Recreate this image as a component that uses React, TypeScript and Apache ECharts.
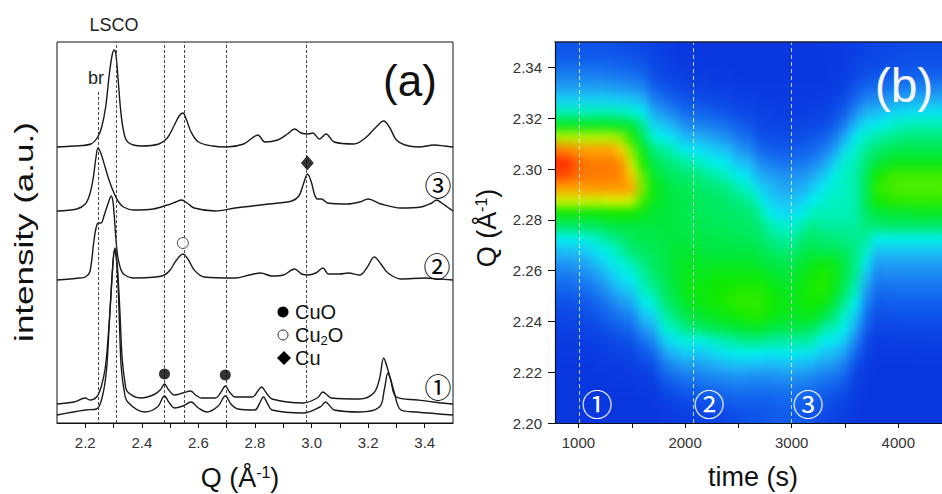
import React, { useEffect, useRef } from 'react';
import * as echarts from 'echarts';

const FONT = '"Liberation Sans", Arial, Helvetica, sans-serif';
const CJK = '"Noto Sans CJK SC", "DejaVu Sans", sans-serif';

// ---------- panel (a): diffraction patterns ----------
const qLabelValues = [2.2, 2.4, 2.6, 2.8, 3.0, 3.2, 3.4];
const qTickValues = [2.2, 2.3, 2.4, 2.5, 2.6, 2.7, 2.8, 2.9, 3.0, 3.1, 3.2, 3.3, 3.4];
const fullDashQ = [2.305, 2.48, 2.548, 2.697, 2.985];
const brDashQ = 2.245;

// vertical offsets of each pattern (intensity units)
const offsets = [8, 19, 143, 212, 276];

// intensity above baseline, [Q, I]
const pattern1b: number[][] = [[2.10,0],[2.2,5],[2.24,6],[2.26,18],[2.275,45],[2.285,92],[2.295,140],[2.303,165],[2.309,158],[2.315,135],[2.321,90],[2.327,48],[2.337,25],[2.35,13],[2.41,3],[2.455,8],[2.48,19],[2.495,13],[2.515,7],[2.545,9],[2.574,13],[2.6,7],[2.63,3],[2.67,9],[2.695,19],[2.715,11],[2.74,6],[2.8,5],[2.815,11],[2.83,18],[2.845,11],[2.86,5],[2.97,2],[3.03,8],[3.05,13],[3.065,9],[3.08,5],[3.17,3],[3.24,8],[3.257,25],[3.27,42],[3.28,35],[3.29,25],[3.316,5],[3.37,3],[3.50,0]];
const pattern1a: number[][] = [[2.10,0],[2.16,2],[2.2,6],[2.216,4],[2.24,7],[2.256,17],[2.27,35],[2.28,64],[2.29,105],[2.297,137],[2.305,156],[2.31,148],[2.315,131],[2.322,95],[2.33,47],[2.34,22],[2.35,12],[2.397,6],[2.44,9],[2.465,14],[2.48,20],[2.495,14],[2.515,9],[2.545,11],[2.572,13],[2.59,9],[2.61,6],[2.66,6],[2.68,12],[2.695,18],[2.71,12],[2.73,7],[2.79,7],[2.81,13],[2.823,17],[2.84,11],[2.86,5],[2.97,1],[3.02,6],[3.04,12],[3.055,9],[3.07,6],[3.17,5],[3.22,11],[3.24,25],[3.255,46],[3.268,36],[3.28,24],[3.3,7],[3.375,4],[3.43,2],[3.50,0]];
const pattern2: number[][] = [[2.10,0],[2.18,2],[2.20,3],[2.216,8],[2.23,38],[2.238,52],[2.246,57],[2.256,57],[2.266,64],[2.28,76],[2.292,84],[2.298,78],[2.303,62],[2.308,42],[2.314,25],[2.322,14],[2.335,6],[2.374,2],[2.45,3],[2.48,5],[2.50,10],[2.52,19],[2.545,26],[2.565,20],[2.585,10],[2.62,3],[2.73,2],[2.78,5],[2.82,7],[2.86,4],[2.9,5],[2.94,11],[2.965,6],[2.986,5],[3.015,7],[3.04,12],[3.06,6],[3.1,6],[3.13,7],[3.17,5],[3.195,12],[3.222,23],[3.245,16],[3.27,7],[3.316,1],[3.4,2],[3.45,1],[3.50,0]];
const pattern3: number[][] = [[2.10,0],[2.17,2],[2.20,7],[2.215,16],[2.227,31],[2.238,54],[2.245,63],[2.256,57],[2.27,44],[2.285,30],[2.303,17],[2.318,9],[2.335,4],[2.37,1],[2.44,2],[2.49,6],[2.52,9],[2.54,11],[2.56,8],[2.585,3],[2.66,0],[2.73,3],[2.85,7],[2.93,10],[2.955,15],[2.97,26],[2.986,37],[3.0,28],[3.01,17],[3.02,12],[3.035,12],[3.057,8],[3.128,7],[3.17,9],[3.2,12],[3.245,7],[3.316,3],[3.387,4],[3.425,8],[3.442,11],[3.46,8],[3.48,4],[3.50,0]];
const pattern4: number[][] = [[2.10,0],[2.16,1],[2.22,3],[2.244,10],[2.258,20],[2.272,40],[2.285,73],[2.295,92],[2.302,97],[2.308,93],[2.316,68],[2.324,40],[2.334,18],[2.35,5],[2.40,1],[2.46,3],[2.49,9],[2.515,22],[2.532,31],[2.545,34],[2.558,27],[2.574,15],[2.60,5],[2.65,1],[2.70,0],[2.76,3],[2.79,9],[2.81,12],[2.835,5],[2.88,7],[2.915,13],[2.94,18],[2.963,14],[2.986,13],[3.004,14],[3.028,8],[3.051,13],[3.08,5],[3.15,3],[3.19,9],[3.225,19],[3.255,26],[3.275,20],[3.30,7],[3.33,2],[3.38,0],[3.434,2],[3.47,1],[3.50,0]];
const patterns = [pattern1b, pattern1a, pattern2, pattern3, pattern4];

// phase markers [Q, level]
const cuoMarks = [[2.48, 49], [2.695, 48]];
const cu2oMarks = [[2.545, 180]];
const cuMarks = [[2.985, 260]];

// ---------- panel (b): time-resolved map ----------
const times = [800,900,1000,1100,1200,1300,1400,1500,1600,1700,1800,1900,2000,2100,2200,2300,2400,2500,2600,2700,2800,2900,3000,3100,3200,3300,3400,3500,3600,3700,3800,3900,4000,4100,4200,4300,4400];
const qCenters = [2.3475,2.3425,2.3375,2.3325,2.3275,2.3225,2.3175,2.3125,2.3075,2.3025,2.2975,2.2925,2.2875,2.2825,2.2775,2.2725,2.2675,2.2625,2.2575,2.2525,2.2475,2.2425,2.2375,2.2325,2.2275,2.2225,2.2175,2.2125,2.2075,2.2025];
// one row per time, values from Q = 2.3475 (top) down to Q = 2.2025
const intensity = [
  [13,16,22,29,38,50,62,75,92,100,97,88,77,64,56,44,34,27,21,17,13,10,7,5,4,3,3,2,2,2],
  [13,16,22,29,38,50,62,75,91,99,96,88,77,64,56,45,35,27,21,17,13,10,7,5,4,3,3,2,2,2],
  [13,16,22,29,38,50,62,75,89,94,93,88,77,64,57,46,36,29,23,18,14,11,8,5,4,3,3,2,2,2],
  [13,16,22,29,38,50,62,75,88,92,92,89,77,64,57,47,38,31,25,20,15,12,9,6,4,3,3,2,2,2],
  [13,16,22,29,38,50,62,75,88,92,92,89,77,64,58,50,44,37,30,24,19,15,11,8,6,4,3,2,2,2],
  [13,16,21,28,38,50,62,75,88,92,92,89,78,65,59,53,47,42,36,29,23,18,14,10,7,5,4,3,2,2],
  [12,15,20,27,37,49,61,73,83,90,91,89,78,65,60,55,51,47,42,35,28,22,16,12,8,5,4,3,2,2],
  [11,14,19,26,36,48,60,66,72,77,83,88,77,65,60,58,55,50,45,38,31,24,18,13,9,6,4,3,2,2],
  [10,13,17,24,33,45,52,58,63,66,70,72,68,63,60,59,57,54,51,49,44,36,28,20,14,9,6,4,3,2],
  [8,9,12,16,23,31,40,48,55,59,62,64,63,61,60,59,58,57,55,52,47,40,32,24,17,11,7,4,3,2],
  [6,7,9,13,19,27,36,45,52,56,59,61,61,60,60,60,59,59,58,57,55,51,47,38,29,21,15,10,6,4],
  [5,5,7,11,16,23,32,41,49,54,57,59,60,60,60,60,61,61,61,60,58,55,50,43,34,25,18,12,8,5],
  [3,4,6,9,13,18,25,34,44,52,56,58,59,59,59,60,61,62,63,63,62,59,54,47,38,29,21,15,10,6],
  [3,4,5,8,12,17,24,33,43,50,55,57,58,58,59,60,61,62,63,64,63,61,56,46,37,28,21,15,11,7],
  [3,3,5,7,11,16,23,31,40,47,53,56,57,58,58,59,60,62,63,64,64,62,58,47,38,30,23,17,12,8],
  [3,3,4,6,10,14,21,28,37,45,51,55,57,57,58,59,60,62,64,65,65,63,59,50,42,32,24,18,13,9],
  [3,3,4,6,9,13,19,26,35,43,49,54,56,57,58,59,60,62,64,65,66,64,60,51,43,33,25,19,14,10],
  [3,3,3,5,7,10,15,21,28,36,44,50,54,56,57,58,60,62,64,66,67,65,61,53,45,35,26,20,15,12],
  [3,3,3,4,7,10,14,19,26,34,42,48,53,56,57,58,60,62,64,66,67,66,62,54,45,34,25,19,15,13],
  [3,3,3,4,5,7,9,13,18,25,32,40,47,52,55,57,59,61,64,66,67,66,62,54,45,34,25,19,15,13],
  [3,3,3,4,5,7,9,12,16,22,30,34,39,45,51,54,57,60,62,64,65,64,60,52,43,33,25,19,16,14],
  [3,3,3,4,5,6,8,11,15,20,27,31,36,41,48,52,56,59,61,63,64,63,59,52,44,34,26,20,17,15],
  [3,3,3,4,5,6,8,11,15,20,27,31,36,41,48,52,56,59,61,62,63,62,59,52,44,34,26,20,17,15],
  [3,3,3,4,5,6,9,12,16,21,27,32,38,45,51,55,58,61,63,64,64,63,59,52,43,33,25,19,16,14],
  [3,3,3,4,5,7,9,13,18,24,31,38,45,50,54,57,60,63,65,66,65,63,58,51,42,32,24,18,15,12],
  [3,3,3,4,6,8,11,16,22,29,37,44,48,50,52,55,58,64,66,66,64,60,52,45,36,28,21,16,13,10],
  [4,4,4,6,8,11,15,21,29,38,46,48,49,50,52,55,59,63,64,63,60,55,50,44,35,27,20,14,10,8],
  [5,5,6,8,11,16,23,32,42,48,49,49,49,50,52,54,57,59,59,57,53,48,45,37,29,22,16,11,8,6],
  [6,7,9,13,18,25,34,44,48,50,51,51,51,51,52,53,54,54,52,49,45,38,31,24,17,11,7,5,4,3],
  [8,9,12,17,24,33,42,49,53,56,58,58,58,57,55,52,48,43,35,29,24,19,15,11,8,5,4,3,2,2],
  [9,10,13,18,25,34,44,51,56,60,65,67,65,60,55,45,35,28,23,19,15,12,9,6,4,3,3,2,2,2],
  [10,11,14,20,28,38,47,53,58,62,67,68,66,61,56,46,36,29,24,19,16,12,9,6,4,3,3,2,2,2],
  [10,11,15,21,30,40,49,54,59,63,68,69,67,61,56,46,36,29,24,20,16,13,10,7,4,3,3,2,2,2],
  [11,12,15,22,31,41,50,55,59,63,68,69,67,61,56,46,36,29,24,20,16,13,10,7,4,3,3,2,2,2],
  [11,12,16,23,32,42,50,55,59,63,68,69,67,62,56,46,36,29,24,20,16,13,10,7,5,3,3,2,2,2],
  [11,12,16,23,32,42,50,55,59,63,68,69,67,62,56,46,36,29,24,20,16,13,10,7,5,3,3,2,2,2],
  [11,12,16,23,32,42,50,55,59,63,68,69,67,62,56,46,36,29,24,20,16,13,10,7,5,3,3,2,2,2],
];
const timeLabelValues = [1000, 2000, 3000, 4000];
const timeTickValues = [1000, 1500, 2000, 2500, 3000, 3500, 4000];
const qMajorValues = [2.20, 2.22, 2.24, 2.26, 2.28, 2.30, 2.32, 2.34];
const qMinorValues = [2.21, 2.23, 2.25, 2.27, 2.29, 2.31, 2.33];
const stageTimes = [1010, 2080, 3000];

const mapColors = ['#0833dc','#0a3ce2','#0c48e6','#105cec','#1672f0','#1c8af2','#20a2f4','#1cbef6','#10d8f4','#00f0f0','#00f0b8','#00ec78','#00e840','#10ea00','#5cee00','#b0f200','#f4f000','#ffc000','#ff9000','#ff5c00','#ff2c00'];

// plot-area geometry of panel (b)
const MAP_LEFT = 555, MAP_TOP = 42, MAP_W = 387, MAP_H = 381, PAD = 30;
const T_MIN = 780, T_MAX = 4410, Q_MIN = 2.2, Q_MAX = 2.35;

export default function App() {
  const ref = useRef<HTMLDivElement>(null);
  const heatRef = useRef<HTMLDivElement>(null);
  useEffect(() => {
    document.body.style.margin = '0';

    // ---- map layer (softened with a CSS blur, clipped to the plot area) ----
    const heat = echarts.init(heatRef.current!, undefined, { renderer: 'svg' });
    const heatData: number[][] = [];
    times.forEach((t, i) => {
      intensity[i].forEach((v, j) => {
        if (qCenters[j] !== undefined) heatData.push([t, qCenters[j], v]);
      });
    });
    const tFirst = times[0], tLast = times[times.length - 1];
    const qTop = qCenters[0], qBottom = qCenters[qCenters.length - 1];
    heat.setOption({
      animation: false,
      grid: { left: PAD, top: PAD, width: MAP_W, height: MAP_H },
      xAxis: { type: 'value', min: T_MIN, max: T_MAX, show: false },
      yAxis: { type: 'value', min: Q_MIN, max: Q_MAX, show: false },
      visualMap: { type: 'continuous', show: false, min: 0, max: 100, dimension: 2, inRange: { color: mapColors } },
      series: [{
        type: 'custom',
        data: heatData,
        encode: { x: 0, y: 1 },
        silent: true,
        renderItem: (params: any, api: any) => {
          const t = api.value(0);
          const q = api.value(1);
          const a = api.coord([t - 50, q + 0.0025]);
          const b = api.coord([t + 50, q - 0.0025]);
          let x0 = a[0], y0 = a[1], x1 = b[0], y1 = b[1];
          if (t === tFirst) x0 -= PAD;
          if (t === tLast) x1 += PAD;
          if (q === qTop) y0 -= PAD;
          if (q === qBottom) y1 += PAD;
          return { type: 'rect', shape: { x: x0, y: y0, width: x1 - x0 + 0.7, height: y1 - y0 + 0.7 }, style: { fill: api.visual('color') } };
        },
      }],
    });

    // ---- main chart ----
    const chart = echarts.init(ref.current!, undefined, { renderer: 'svg' });

    const lineSeries = patterns.map((p, k) => ({
      type: 'line',
      xAxisIndex: 0,
      yAxisIndex: 0,
      data: p.map(([q, v]) => [q, v + offsets[k]]),
      showSymbol: false,
      smooth: 0.35,
      lineStyle: { color: '#1a1a1a', width: 1.4 },
      silent: true,
      z: 3,
    }));

    const axisText = { color: '#333', fontSize: 15, fontFamily: FONT };

    const circled = (ch: string, x: number, y: number, color: string, size: number) => ({
      type: 'text', x, y, z: 100,
      style: { text: ch, fill: color, font: `${size}px ${CJK}`, align: 'center', verticalAlign: 'middle' },
    });

    const option: any = {
      animation: false,
      grid: [
        { left: 57, top: 42, width: 396, height: 381, show: true, borderColor: '#111', borderWidth: 1 },
        { left: MAP_LEFT, top: MAP_TOP, width: MAP_W, height: MAP_H },
      ],
      xAxis: [
        {
          type: 'value', gridIndex: 0, min: 2.1, max: 3.5,
          axisLine: { show: true, lineStyle: { color: '#111', width: 1 } },
          axisTick: { show: true, customValues: qTickValues, length: 5, inside: false, lineStyle: { color: '#111' } },
          axisLabel: { ...axisText, customValues: qLabelValues, formatter: (v: number) => v.toFixed(1), margin: 12 },
          splitLine: { show: false },
        },
        {
          type: 'value', gridIndex: 1, min: T_MIN, max: T_MAX, z: 5,
          axisLine: { show: true, lineStyle: { color: '#111', width: 1 } },
          axisTick: { show: true, customValues: timeTickValues, length: 5, lineStyle: { color: '#111' } },
          axisLabel: { ...axisText, customValues: timeLabelValues, formatter: (v: number) => String(v), margin: 12 },
          splitLine: { show: false },
        },
        {
          type: 'value', gridIndex: 1, min: T_MIN, max: T_MAX, position: 'top', z: 5,
          axisLine: { show: true, lineStyle: { color: '#1a1f3a', width: 1.5 } },
          axisTick: { show: false }, axisLabel: { show: false }, splitLine: { show: false },
        },
      ],
      yAxis: [
        {
          type: 'value', gridIndex: 0, min: 0, max: 381,
          axisLine: { show: false }, axisTick: { show: false }, axisLabel: { show: false }, splitLine: { show: false },
        },
        {
          type: 'value', gridIndex: 1, min: Q_MIN, max: Q_MAX, z: 5,
          axisLine: { show: true, lineStyle: { color: '#111', width: 1.2 } },
          axisTick: { show: true, customValues: qMajorValues, length: 7, lineStyle: { color: '#111' } },
          axisLabel: { ...axisText, customValues: qMajorValues, formatter: (v: number) => v.toFixed(2), margin: 13 },
          splitLine: { show: false },
        },
        {
          type: 'value', gridIndex: 1, min: Q_MIN, max: Q_MAX, z: 5,
          axisLine: { show: false },
          axisTick: { show: true, customValues: qMinorValues, length: 4, lineStyle: { color: '#111' } },
          axisLabel: { show: false }, splitLine: { show: false },
        },
      ],
      series: [
        ...lineSeries,
        {
          type: 'line', xAxisIndex: 0, yAxisIndex: 0, data: [], silent: true, z: 2,
          markLine: {
            silent: true, symbol: ['none', 'none'], label: { show: false },
            lineStyle: { color: '#333', width: 0.9, type: [3, 2] },
            data: [
              ...fullDashQ.map((q) => ({ xAxis: q })),
              [{ coord: [brDashQ, 331] }, { coord: [brDashQ, 0] }],
            ],
          },
        },
        {
          type: 'line', xAxisIndex: 1, yAxisIndex: 1, data: [], silent: true, z: 4,
          markLine: {
            silent: true, symbol: ['none', 'none'], label: { show: false },
            lineStyle: { color: '#ffffff', width: 0.9, type: [4, 3], opacity: 0.85 },
            data: stageTimes.map((t) => ({ xAxis: t })),
          },
        },
        {
          type: 'scatter', xAxisIndex: 0, yAxisIndex: 0, data: cuoMarks, symbol: 'circle', symbolSize: 11,
          itemStyle: { color: '#000' }, silent: true, z: 5,
        },
        {
          type: 'scatter', xAxisIndex: 0, yAxisIndex: 0, data: cu2oMarks, symbol: 'circle', symbolSize: 11,
          itemStyle: { color: '#fff', borderColor: '#222', borderWidth: 1 }, silent: true, z: 5,
        },
        {
          type: 'scatter', xAxisIndex: 0, yAxisIndex: 0, data: cuMarks, symbol: 'diamond', symbolSize: [13, 15],
          itemStyle: { color: '#000' }, silent: true, z: 5,
        },
      ],
      graphic: [
        { type: 'text', x: 114, y: 25, z: 100, style: { text: 'LSCO', fill: '#222', font: `18px ${FONT}`, align: 'center', verticalAlign: 'middle' } },
        { type: 'text', x: 96, y: 78, z: 100, style: { text: 'br', fill: '#222', font: `18px ${FONT}`, align: 'center', verticalAlign: 'middle' } },
        { type: 'text', x: 410, y: 80, z: 100, style: { text: '(a)', fill: '#111', font: `44px ${FONT}`, align: 'center', verticalAlign: 'middle' } },
        { type: 'text', x: 904, y: 85, z: 100, style: { text: '(b)', fill: '#f4f6ff', font: `48px ${FONT}`, align: 'center', verticalAlign: 'middle' } },
        circled('③', 438, 184, '#000', 27),
        circled('②', 437, 265, '#000', 27),
        circled('①', 438, 386, '#000', 27),
        circled('①', 597, 402, '#fff', 31),
        circled('②', 709, 402, '#fff', 31),
        circled('③', 808, 402, '#fff', 31),
        // legend
        { type: 'circle', z: 100, shape: { cx: 283, cy: 312, r: 5.5 }, style: { fill: '#000' } },
        { type: 'text', x: 295, y: 312, z: 100, style: { text: 'CuO', fill: '#111', font: `20px ${FONT}`, verticalAlign: 'middle' } },
        { type: 'circle', z: 100, shape: { cx: 283, cy: 335, r: 5 }, style: { fill: '#fff', stroke: '#222', lineWidth: 1 } },
        {
          type: 'text', x: 295, y: 335, z: 100,
          style: {
            text: '{a|Cu}{s|2}{a|O}', verticalAlign: 'middle',
            rich: { a: { fontSize: 20, fontFamily: FONT, fill: '#111' }, s: { fontSize: 13, fontFamily: FONT, fill: '#111', padding: [10, 0, 0, 0] } },
          },
        },
        { type: 'polygon', z: 100, shape: { points: [[284, 351], [291, 358], [284, 365], [277, 358]] }, style: { fill: '#000' } },
        { type: 'text', x: 295, y: 358, z: 100, style: { text: 'Cu', fill: '#111', font: `20px ${FONT}`, verticalAlign: 'middle' } },
        // axis titles
        {
          type: 'text', x: 24, y: 232, z: 100, rotation: Math.PI / 2, scaleX: 1.4,
          style: { text: 'intensity (a.u.)', fill: '#111', font: `25px ${FONT}`, align: 'center', verticalAlign: 'middle' },
        },
        {
          type: 'text', x: 240, y: 478, z: 100,
          style: {
            text: '{a|Q (Å}{s|-1}{a|)}', align: 'center', verticalAlign: 'middle',
            rich: { a: { fontSize: 27, fontFamily: FONT, fill: '#111' }, s: { fontSize: 16, fontFamily: FONT, fill: '#111', padding: [0, 0, 12, 0] } },
          },
        },
        {
          type: 'text', x: 487, y: 228, z: 100, rotation: Math.PI / 2,
          style: {
            text: '{a|Q (Å}{s|-1}{a|)}', align: 'center', verticalAlign: 'middle',
            rich: { a: { fontSize: 27, fontFamily: FONT, fill: '#111' }, s: { fontSize: 16, fontFamily: FONT, fill: '#111', padding: [0, 0, 12, 0] } },
          },
        },
        { type: 'text', x: 753, y: 477, z: 100, style: { text: 'time (s)', fill: '#111', font: `27px ${FONT}`, align: 'center', verticalAlign: 'middle' } },
      ],
    };

    chart.setOption(option);
    return () => {
      chart.dispose();
      heat.dispose();
    };
  }, []);

  return (
    <div style={{ position: 'absolute', left: 0, top: 0, width: 942, height: 494, background: '#fff', overflow: 'hidden' }}>
      <div style={{ position: 'absolute', left: MAP_LEFT, top: MAP_TOP, width: MAP_W, height: MAP_H, overflow: 'hidden' }}>
        <div
          ref={heatRef}
          style={{ position: 'absolute', left: -PAD, top: -PAD, width: MAP_W + 2 * PAD, height: MAP_H + 2 * PAD, filter: 'blur(5px)' }}
        />
      </div>
      <div ref={ref} style={{ position: 'absolute', left: 0, top: 0, width: 942, height: 494 }} />
    </div>
  );
}
